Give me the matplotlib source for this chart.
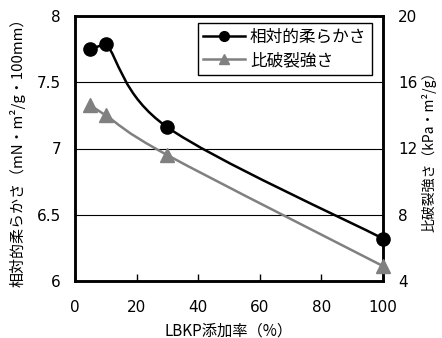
import matplotlib

matplotlib.use("Agg")
import matplotlib.pyplot as plt
import numpy as np
from matplotlib.lines import Line2D
from matplotlib.patches import PathPatch
from matplotlib.path import Path

plt.rcParams["font.family"] = ["Noto Sans CJK JP", "DejaVu Sans"]

# LBKP addition rate (%)
lbkp_rate = [5, 10, 30, 100]
# relative softness, left axis (mN·m²/g·100mm)
softness = [7.75, 7.79, 7.16, 6.32]
# specific burst strength, right axis (kPa·m²/g)
burst = [14.6, 14.0, 11.6, 4.9]

x_ticks = [0, 20, 40, 60, 80, 100]
left_ticks = [6, 6.5, 7, 7.5, 8]
left_labels = ["6", "6.5", "7", "7.5", "8"]
right_ticks = [4, 8, 12, 16, 20]

GRAY = "#808080"


def smooth_path(xs, ys):
    # excel-style smoothed line: catmull-rom segments as cubic beziers,
    # first segment kept straight so the short 5->10 step does not loop
    pts = np.column_stack([xs, ys]).astype(float)
    n = len(pts)
    verts = [pts[0]]
    codes = [Path.MOVETO]
    for i in range(n - 1):
        if i == 0:
            c1 = pts[0] + (pts[1] - pts[0]) / 3
            c2 = pts[1] - (pts[1] - pts[0]) / 3
        else:
            p_next = pts[i + 2] if i + 2 < n else pts[i + 1]
            c1 = pts[i] + (pts[i + 1] - pts[i - 1]) / 6
            c2 = pts[i + 1] - (p_next - pts[i]) / 6
        verts += [c1, c2, pts[i + 1]]
        codes += [Path.CURVE4] * 3
    return Path(verts, codes)


fig = plt.figure(figsize=(4.42, 3.38), dpi=100)
ax = fig.add_axes([75 / 442, 1 - 281 / 338, 308 / 442, 265 / 338])
ax2 = ax.twinx()

ax.set_xlim(0, 100)
ax.set_ylim(6, 8)
ax2.set_ylim(4, 20)

for y in [6.5, 7, 7.5]:
    ax.axhline(y, color="black", linewidth=0.8, zorder=1)

ax.add_patch(PathPatch(smooth_path(lbkp_rate, softness), facecolor="none",
                       edgecolor="black", linewidth=1.8, zorder=3))
ax.plot(lbkp_rate, softness, linestyle="none", marker="o", markersize=9.5,
        color="black", zorder=4, clip_on=False)

ax2.add_patch(PathPatch(smooth_path(lbkp_rate, burst), facecolor="none",
                        edgecolor=GRAY, linewidth=1.8, zorder=3))
ax2.plot(lbkp_rate, burst, linestyle="none", marker="^", markersize=9.5,
         color=GRAY, zorder=4, clip_on=False)

ax.set_xticks(x_ticks)
ax.set_yticks(left_ticks)
ax.set_yticklabels(left_labels)
ax2.set_yticks(right_ticks)

ax.tick_params(axis="x", direction="in", length=5, width=1, pad=14)
ax.tick_params(axis="y", length=0, pad=10)
ax2.tick_params(axis="y", length=0, pad=11)
for lab in ax.get_xticklabels() + ax.get_yticklabels() + ax2.get_yticklabels():
    lab.set_fontfamily("DejaVu Sans")
    lab.set_fontsize(11)

for a in (ax, ax2):
    for spine in a.spines.values():
        spine.set_linewidth(1.8)

ax.set_xlabel("LBKP添加率（%）", fontsize=11, labelpad=5)
ax.set_ylabel("相対的柔らかさ（mN・m²/g・100mm）", fontsize=10.8, labelpad=8)
ax2.set_ylabel("比破裂強さ（kPa・m²/g）", fontsize=10, labelpad=3)

handles = [
    Line2D([], [], color="black", marker="o", markersize=7, linewidth=1.8),
    Line2D([], [], color=GRAY, marker="^", markersize=7, linewidth=1.8),
]
leg = ax2.legend(handles, ["相対的柔らかさ", "比破裂強さ"], loc="upper right",
                 bbox_to_anchor=(0.965, 0.975), fontsize=12, fancybox=False,
                 framealpha=1, edgecolor="black", borderpad=0.35,
                 handlelength=2.5, handletextpad=0.3, labelspacing=0.4,
                 borderaxespad=0)
leg.get_frame().set_linewidth(1.0)

fig.savefig("out.png", dpi=100)
